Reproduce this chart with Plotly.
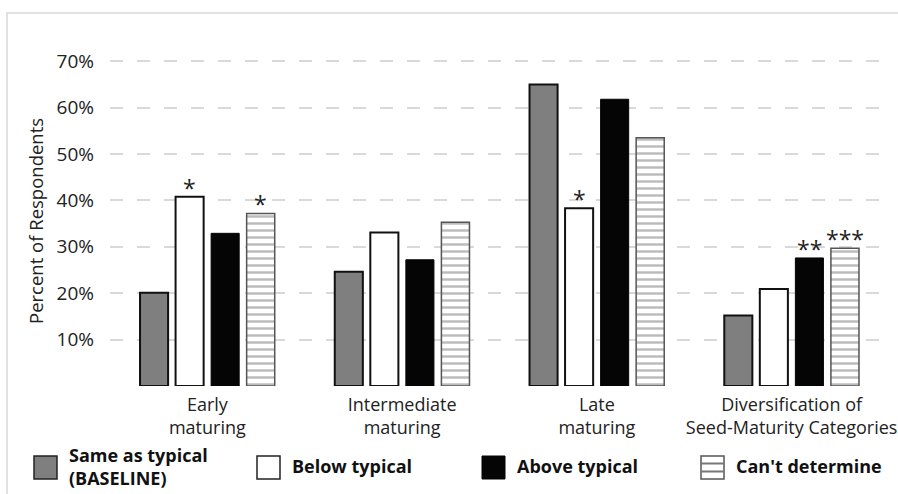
import plotly.graph_objects as go

# Maturity categories (x axis)
categories = [
    "Early<br>maturing",
    "Intermediate<br>maturing",
    "Late<br>maturing",
    "Diversification of<br>Seed-Maturity Categories",
]

# Share of respondents per response group
same_as_typical = [0.201, 0.246, 0.650, 0.152]
below_typical = [0.408, 0.331, 0.383, 0.209]
above_typical = [0.329, 0.272, 0.618, 0.276]
cant_determine = [0.372, 0.353, 0.535, 0.297]

# Significance markers drawn above the bars
below_marks = ["*", "", "*", ""]
above_marks = ["", "", "", "**"]
cant_marks = ["*", "", "", "***"]

y_ticks = [0.1, 0.2, 0.3, 0.4, 0.5, 0.6, 0.7]

FONT = "Open Sans"
W, H = 898, 494
ML, MR, MT, MB = 110, 9, 38, 108
PW, PH = W - ML - MR, H - MT - MB


def px(x):
    return (x - ML) / PW


def py(y):
    return (H - MB - y) / PH


fig = go.Figure()

series = [
    ("Same as typical (BASELINE)", same_as_typical,
     dict(color="#7f7f7f", line=dict(color="#111111", width=2))),
    ("Below typical", below_typical,
     dict(color="#ffffff", line=dict(color="#111111", width=2))),
    ("Above typical", above_typical,
     dict(color="#050505", line=dict(color="#050505", width=1))),
    ("Can't determine", cant_determine,
     dict(color="#ffffff",
          line=dict(color="#555555", width=1.5),
          pattern=dict(shape="-", fgcolor="#777777", bgcolor="#ffffff",
                       size=7, solidity=0.35, fillmode="overlay"))),
]

for name, vals, marker in series:
    fig.add_trace(go.Bar(x=categories, y=vals, name=name, marker=marker,
                         showlegend=False))

# Asterisks over bars, offsets follow the grouped bar slots
slot_offsets = [-53.5, -17.5, 18, 53]
for idx, (vals, marks) in [(1, (below_typical, below_marks)),
                           (2, (above_typical, above_marks)),
                           (3, (cant_determine, cant_marks))]:
    for i, (v, m) in enumerate(zip(vals, marks)):
        if m:
            fig.add_annotation(x=i, y=v, text=m, showarrow=False,
                               xref="x", yref="y", xshift=slot_offsets[idx],
                               yanchor="bottom", yshift=-9,
                               font=dict(family=FONT, size=23, color="#222222"))

# Outer frame
fig.add_shape(type="rect", xref="paper", yref="paper",
              x0=px(7), x1=px(W + 40), y0=py(H + 40), y1=py(13),
              line=dict(color="#d9d9d9", width=1.5), fillcolor="rgba(0,0,0,0)",
              layer="below")

# Y axis title
fig.add_annotation(x=px(35), y=py(221), xref="paper", yref="paper",
                   xanchor="center", yanchor="middle",
                   text="Percent of Respondents", textangle=-90, showarrow=False,
                   font=dict(family=FONT, size=18.5, color="#222222"))

# Legend row
legend_items = [
    (34, "Same as typical<br>(BASELINE)", dict(fillcolor="#7f7f7f", line=dict(color="#222222", width=1.5))),
    (257, "Below typical", dict(fillcolor="#ffffff", line=dict(color="#222222", width=1.5))),
    (482, "Above typical", dict(fillcolor="#050505", line=dict(color="#050505", width=1))),
    (701, "Can't determine", None),
]
for x0, label, style in legend_items:
    sx0, sx1, sy0, sy1 = x0, x0 + 23, 456, 479
    if style is not None:
        fig.add_shape(type="rect", xref="paper", yref="paper",
                      x0=px(sx0), x1=px(sx1), y0=py(sy1), y1=py(sy0), **style)
    else:
        fig.add_shape(type="rect", xref="paper", yref="paper",
                      x0=px(sx0), x1=px(sx1), y0=py(sy1), y1=py(sy0),
                      fillcolor="#ffffff", line=dict(color="#555555", width=1.5))
        for yy in (463.5, 471.5):
            fig.add_shape(type="line", xref="paper", yref="paper",
                          x0=px(sx0), x1=px(sx1), y0=py(yy), y1=py(yy),
                          line=dict(color="#777777", width=2))
    fig.add_annotation(x=px(x0 + 33), y=py(466), xref="paper", yref="paper",
                       xanchor="left", yanchor="middle", align="left",
                       text=f"<b>{label}</b>", showarrow=False,
                       font=dict(family=FONT, size=18, color="#111111"))

fig.update_layout(
    width=W, height=H,
    margin=dict(l=ML, r=MR, t=MT, b=MB, pad=0, autoexpand=False),
    paper_bgcolor="#ffffff", plot_bgcolor="#ffffff",
    barmode="group", bargap=0.27, bargroupgap=0.21,
    font=dict(family=FONT, color="#222222"),
    xaxis=dict(showgrid=False, showline=False, zeroline=False, ticks="",
               automargin=False,
               tickfont=dict(family=FONT, size=18, color="#222222"),
               ticklabelstandoff=6),
    yaxis=dict(range=[0, 0.75], tickvals=y_ticks, tickformat=".0%",
               automargin=False,
               showgrid=True, gridcolor="#d9d9d9", gridwidth=1.5,
               griddash="13px,14px", zeroline=False, showline=False, ticks="",
               ticklabelstandoff=15,
               tickfont=dict(family=FONT, size=19, color="#222222")),
)

fig.write_html("out.html")
